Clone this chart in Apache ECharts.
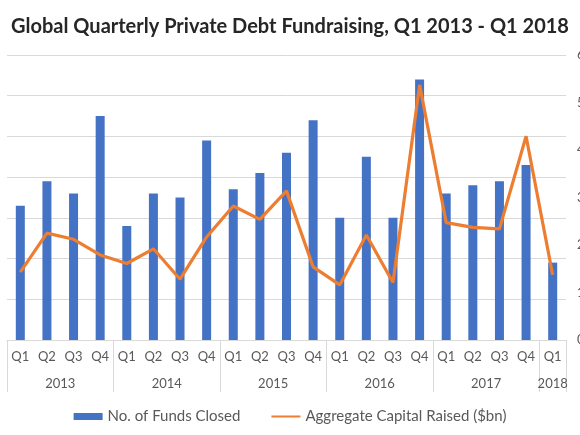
<!DOCTYPE html>
<html>
<head>
<meta charset="utf-8">
<script src="https://cdn.jsdelivr.net/npm/echarts@6/dist/echarts.min.js"></script>
<style>
  html, body { margin: 0; padding: 0; background: #fff; }
  #chart { width: 580px; height: 435px; }
</style>
</head>
<body>
<div id="chart"></div>
<script>
// quarters and the year each one belongs to
var quarters = ['Q1','Q2','Q3','Q4','Q1','Q2','Q3','Q4','Q1','Q2','Q3','Q4',
                'Q1','Q2','Q3','Q4','Q1','Q2','Q3','Q4','Q1'];
var quarterYears = ['2013','2013','2013','2013','2014','2014','2014','2014',
                    '2015','2015','2015','2015','2016','2016','2016','2016',
                    '2017','2017','2017','2017','2018'];
// No. of funds closed (left axis)
var fundsClosed = [33, 39, 36, 55, 28, 36, 35, 49, 37, 41, 46, 54,
                   30, 45, 30, 64, 36, 38, 39, 43, 19];
// Aggregate capital raised, $bn (right axis)
var capitalRaised = [14.3, 22.5, 21.2, 17.9, 16.1, 19.2, 12.8, 21.7, 28.2, 25.4, 31.4, 15.4,
                     11.6, 22.1, 12.1, 53.7, 24.7, 23.7, 23.4, 42.9, 13.7];

// year groups for the second row of the category axis
var yearBounds = [0];
var yearCenters = [];
var yearNames = [];
(function () {
    var start = 0;
    for (var i = 1; i <= quarterYears.length; i++) {
        if (i === quarterYears.length || quarterYears[i] !== quarterYears[start]) {
            yearBounds.push(i);
            yearCenters.push((start + i) / 2);
            yearNames.push(quarterYears[start]);
            start = i;
        }
    }
})();

var chart = echarts.init(document.getElementById('chart'));
var font = 'Lato, "Open Sans", sans-serif';
chart.setOption({
    animation: false,
    textStyle: { fontFamily: font },
    title: {
        text: 'Global Quarterly Private Debt Fundraising, Q1 2013 - Q1 2018',
        left: 'center',
        top: 12,
        textStyle: { fontFamily: font, fontSize: 20, fontWeight: 'bold', color: '#262626' }
    },
    legend: {
        bottom: 6,
        left: 'center',
        itemWidth: 29,
        itemHeight: 7,
        itemGap: 30,
        textStyle: { fontSize: 15, color: '#595959' },
        data: [
            { name: 'No. of Funds Closed', icon: 'rect' },
            { name: 'Aggregate Capital Raised ($bn)', itemStyle: { opacity: 0 } }
        ]
    },
    grid: { left: 7, right: 14, top: 55, bottom: 95, outerBoundsMode: 'none', containLabel: false },
    xAxis: [{
        type: 'category',
        data: quarters,
        axisLine: { lineStyle: { color: '#d9d9d9' } },
        axisTick: { show: false },
        axisLabel: { color: '#595959', fontSize: 13, margin: 10, interval: 0 }
    }, {
        type: 'value',
        position: 'bottom',
        min: 0,
        max: quarters.length,
        axisLine: { show: false },
        splitLine: { show: false },
        axisTick: {
            show: true,
            length: 52,
            customValues: yearBounds,
            lineStyle: { color: '#d9d9d9' }
        },
        axisLabel: {
            customValues: yearCenters,
            color: '#595959',
            fontSize: 13,
            margin: 37,
            formatter: function (v) {
                return yearNames[yearCenters.indexOf(v)] || '';
            }
        }
    }],
    yAxis: [{
        type: 'value',
        min: 0,
        max: 70,
        interval: 10,
        axisLabel: { show: false },
        axisLine: { show: false },
        axisTick: { show: false },
        splitLine: { lineStyle: { color: '#d9d9d9', width: 1 } }
    }, {
        type: 'value',
        min: 0,
        max: 60,
        interval: 10,
        position: 'right',
        axisLine: { show: false },
        axisTick: { show: false },
        splitLine: { show: false },
        axisLabel: { color: '#595959', fontSize: 13, margin: 11 }
    }],
    series: [{
        name: 'No. of Funds Closed',
        type: 'bar',
        data: fundsClosed,
        barWidth: 9,
        itemStyle: { color: '#4472C4' }
    }, {
        name: 'Aggregate Capital Raised ($bn)',
        type: 'line',
        yAxisIndex: 1,
        data: capitalRaised,
        symbol: 'none',
        lineStyle: { color: '#ED7D31', width: 3.2 },
        itemStyle: { color: '#ED7D31' }
    }]
});
</script>
</body>
</html>
